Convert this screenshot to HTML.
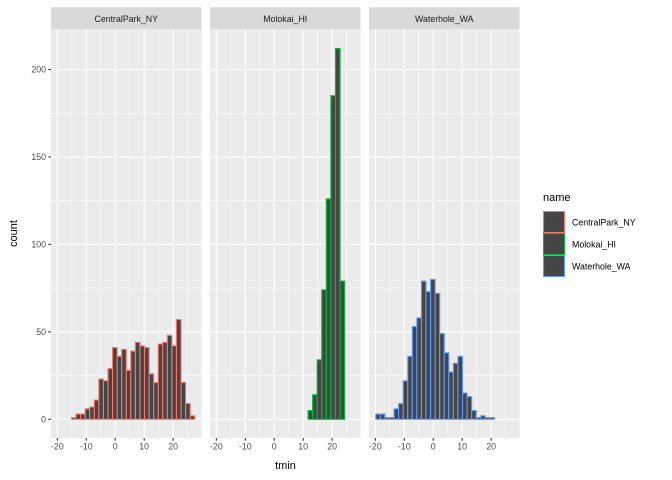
<!DOCTYPE html>
<html><head><meta charset="utf-8"><style>
body{margin:0;background:#fff}
svg{display:block;font-family:"Liberation Sans",Arial,sans-serif}
</style></head><body>
<svg id="chart" width="672" height="480"></svg>
<script>
const facets = ["CentralPark_NY","Molokai_HI","Waterhole_WA"];
const colors = ["#F8766D","#00BA38","#619CFF"];
const centralCounts = [0,0,0,1,3,3,6,7,11,23,22,29,41,36,40,28,39,44,42,41,26,21,43,44,48,42,57,21,9,2];
const molokaiCounts = [0,0,0,0,0,0,0,0,0,0,0,0,0,0,0,0,0,0,0,0,5,14,34,74,126,185,212,79,0,0];
const waterholeCounts = [3,3,1,1,6,9,22,36,53,58,79,73,80,72,49,38,27,32,36,15,13,5,1,2,1,1,0,0,0,0];
const xTicks = [-20,-10,0,10,20];
const xMinor = [-15,-5,5,15,25];
const yTicks = [0,50,100,150,200];
const yMinor = [25,75,125,175];
const binStart = -19.85, binWidth = 1.577;
const allCounts = [centralCounts, molokaiCounts, waterholeCounts];

const NS="http://www.w3.org/2000/svg";
const svg=document.getElementById('chart');
function mk(tag,attrs,parent){const e=document.createElementNS(NS,tag);for(const k in attrs)e.setAttribute(k,attrs[k]);(parent||svg).appendChild(e);return e;}
const panelLefts=[51,210,369], panelW=150.5, pTop=29.5, pBot=438;
const xDomMin=-22.2, xDomMax=29.8;
const y=v=>419.3-v*1.749;
allCounts.forEach((counts,i)=>{
  const L=panelLefts[i];
  const x=v=>L+(v-xDomMin)/(xDomMax-xDomMin)*panelW;
  const g=mk('g',{});
  
  
  mk('rect',{x:L,y:pTop,width:panelW,height:pBot-pTop,fill:'#EBEBEB'},g);
  const strip=mk('rect',{x:L,y:7.3,width:panelW,height:22,fill:'#D9D9D9'},g);
  
  
  const st=mk('text',{x:L+panelW/2,y:22,'text-anchor':'middle','font-size':'8.8','fill':'#1A1A1A'},g);
  st.textContent=facets[i];
  
  
  yMinor.forEach(v=>mk('line',{x1:L,x2:L+panelW,y1:y(v),y2:y(v),stroke:'#fff','stroke-width':0.55},g));
  xMinor.forEach(v=>mk('line',{x1:x(v),x2:x(v),y1:pTop,y2:pBot,stroke:'#fff','stroke-width':0.55},g));
  yTicks.forEach(v=>mk('line',{x1:L,x2:L+panelW,y1:y(v),y2:y(v),stroke:'#fff','stroke-width':1.1},g));
  xTicks.forEach(v=>mk('line',{x1:x(v),x2:x(v),y1:pTop,y2:pBot,stroke:'#fff','stroke-width':1.1},g));
  counts.forEach((c,j)=>{
    const x0=x(binStart+j*binWidth), x1=x(binStart+(j+1)*binWidth);
    const b=mk('rect',{x:x0,y:y(c),width:x1-x0,height:y(0)-y(c),fill:'#454545',stroke:colors[i],'stroke-width':1.1},g);
    
    
  });
  xTicks.forEach(v=>{
    mk('line',{x1:x(v),x2:x(v),y1:pBot,y2:pBot+2.7,stroke:'#333','stroke-width':1.1},g);
    const t=mk('text',{x:x(v),y:pBot+11.5,'text-anchor':'middle','font-size':'8.8',fill:'#4D4D4D'},g);
    t.textContent=v;
    
    
  });
});
yTicks.forEach(v=>{
  mk('line',{x1:48.3,x2:51,y1:y(v),y2:y(v),stroke:'#333','stroke-width':1.1});
  const t=mk('text',{x:46,y:y(v)+3.2,'text-anchor':'end','font-size':'8.8',fill:'#4D4D4D'});
  t.textContent=v;
  
  
});
const xt=mk('text',{x:285.5,y:469,'text-anchor':'middle','font-size':'11',fill:'#000'});
xt.textContent='tmin';


const yt=mk('text',{x:17,y:233.5,'text-anchor':'middle','font-size':'11',fill:'#000',transform:'rotate(-90 17 233.5)'});
yt.textContent='count';


const lt=mk('text',{x:543,y:201,'font-size':'11',fill:'#000'});
lt.textContent='name';


facets.forEach((f,i)=>{
  const ky=211+i*22;
  const k=mk('rect',{x:543.5,y:ky+0.5,width:21,height:21,fill:'#454545',stroke:colors[i],'stroke-width':1.1});
  
  
  const t=mk('text',{x:572,y:ky+14.5,'font-size':'8.8',fill:'#000'});
  t.textContent=f;
  
  
});
</script>
</body></html>
